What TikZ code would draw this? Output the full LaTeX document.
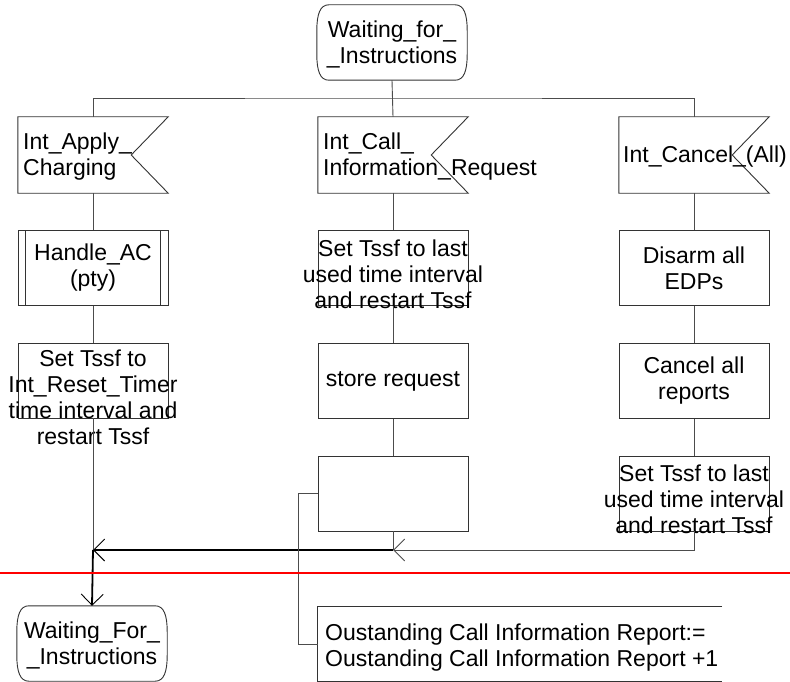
\documentclass[tikz,border=0pt]{standalone}
\usepackage{fontspec}
\setmainfont{Liberation Sans}
\usetikzlibrary{arrows.meta,calc}
\newcommand{\sdlstate}[1]{%
\draw[box] ([xshift=12pt]#1.north west) -- ([xshift=-12pt]#1.north east)
 .. controls ([xshift=-3pt]#1.north east) and ([yshift=-10pt]#1.north east) .. ([yshift=-26pt]#1.north east)
 -- ([yshift=26pt]#1.south east)
 .. controls ([yshift=10pt]#1.south east) and ([xshift=-3pt]#1.south east) .. ([xshift=-12pt]#1.south east)
 -- ([xshift=12pt]#1.south west)
 .. controls ([xshift=3pt]#1.south west) and ([yshift=10pt]#1.south west) .. ([yshift=26pt]#1.south west)
 -- ([yshift=-26pt]#1.north west)
 .. controls ([yshift=-10pt]#1.north west) and ([xshift=3pt]#1.north west) .. ([xshift=12pt]#1.north west) -- cycle;}
\newcommand{\sdlinput}[1]{%
\draw[box] (#1.north west) -- (#1.north east) -- ([xshift=-37pt]#1.east) -- (#1.south east) -- (#1.south west) -- cycle;}
\begin{document}
\begin{tikzpicture}[x=1pt,y=-1pt,
  box/.style={draw=black!80,line width=0.9pt},
  conn/.style={draw=black!70,line width=0.9pt},
  strong/.style={draw=black,line width=1.8pt},
  txt/.style={inner sep=0pt,font=\fontsize{23}{26}\selectfont},
  shapebox/.style={rectangle,minimum width=150pt,minimum height=75pt,inner sep=0pt,draw=none},
  taskbox/.style={box,rectangle,minimum width=150pt,minimum height=75pt,inner sep=0pt,align=center,font=\fontsize{23}{26}\selectfont},
  barb/.style={-{Straight Barb[length=11pt,width=22pt,line width=0.9pt]}}
]
\fill[white] (0,0) rectangle (790,682);
\useasboundingbox (0,0) rectangle (790,682);

% top state
\node[shapebox] (S0) at (392,42.5) {};
\sdlstate{S0}
\node[txt,align=center] (S0t) at (392,44) {Waiting\_for\_\\\_Instructions};

% input signals
\node[shapebox,minimum height=76pt] (I1) at (93,155) {};
\node[shapebox,minimum height=76pt] (I2) at (393,155) {};
\node[shapebox,minimum height=76pt] (I3) at (694,155) {};
\sdlinput{I1}\sdlinput{I2}\sdlinput{I3}
\node[txt,anchor=west,align=left] (I1t) at (23,157) {Int\_Apply\_\\Charging};
\node[txt,anchor=west,align=left] (I2t) at (323,157) {Int\_Call\_\\Information\_Request};
\node[txt,anchor=west,align=left] (I3t) at (623,157) {Int\_Cancel\_(All)};

% left column
\node[taskbox] (P1) at (93,268) {Handle\_AC\\(pty)};
\draw[box] ([xshift=8pt]P1.north west) -- ([xshift=8pt]P1.south west);
\draw[box] ([xshift=-8pt]P1.north east) -- ([xshift=-8pt]P1.south east);
\node[taskbox] (L3) at (93,380.5) {};
\node[txt,align=center,anchor=north] (L3t) at (93,350) {Set Tssf to\\Int\_Reset\_Timer\\time interval and\\restart Tssf};

% middle column
\node[taskbox] (M2) at (393,268) {};
\node[txt,align=center,anchor=north] (M2t) at (393,240) {Set Tssf to last\\used time interval\\and restart Tssf};
\node[taskbox] (M3) at (393,381) {store request};
\node[taskbox] (M4) at (393,493.5) {};

% right column
\node[taskbox] (R2) at (694,268) {Disarm all\\EDPs};
\node[taskbox] (R3) at (694,381) {Cancel all\\reports};
\node[taskbox] (R4) at (694,493.5) {};
\node[txt,align=center,anchor=north] (R4t) at (694,465) {Set Tssf to last\\used time interval\\and restart Tssf};

% bottom state
\node[shapebox] (W) at (92,643.5) {};
\sdlstate{W}
\node[txt,align=center] (Wt) at (92,645) {Waiting\_For\_\\\_Instructions};

% comment
\node[shapebox,minimum width=404pt,minimum height=74pt] (C) at (520,644) {};
\draw[box] (C.north east) -- (C.north west) -- (C.south west) -- (C.south east);
\node[txt,anchor=west,align=left] (Ct) at (325,648) {Oustanding Call Information Report:=\\Oustanding Call Information Report +1};

% coordinates
\coordinate (B0) at (393,98);
\coordinate (J1) at (93,550);
\coordinate (J2) at (393,550);
\coordinate (redL) at (0,573);
\coordinate (redR) at (790,573);

% connectors
\draw[conn] (S0.south) -- (I2.north);
\draw[conn] (I1.north) |- (B0) -| (I3.north);
\draw[conn] (I1.south) -- (P1.north);
\draw[conn] (P1.south) -- (L3.north);
\draw[conn] (L3.south) -- (J1);
\draw[conn] (I2.south) -- (M2.north);
\draw[conn] (M2.south) -- (M3.north);
\draw[conn] (M3.south) -- (M4.north);
\draw[conn] (M4.south) -- (J2);
\draw[conn] (I3.south) -- (R2.north);
\draw[conn] (R2.south) -- (R3.north);
\draw[conn] (R3.south) -- (R4.north);
\draw[conn,barb] (R4.south) |- (J2);
\draw[strong,barb] (J2) -- (J1);
\draw[strong,barb] (J1) -- (W.north);
\draw[conn] (M4.west) -- ++(-19pt,0) |- (C.west);

\draw[red,line width=1.6pt] (redL) -- (redR);
\end{tikzpicture}
\end{document}
